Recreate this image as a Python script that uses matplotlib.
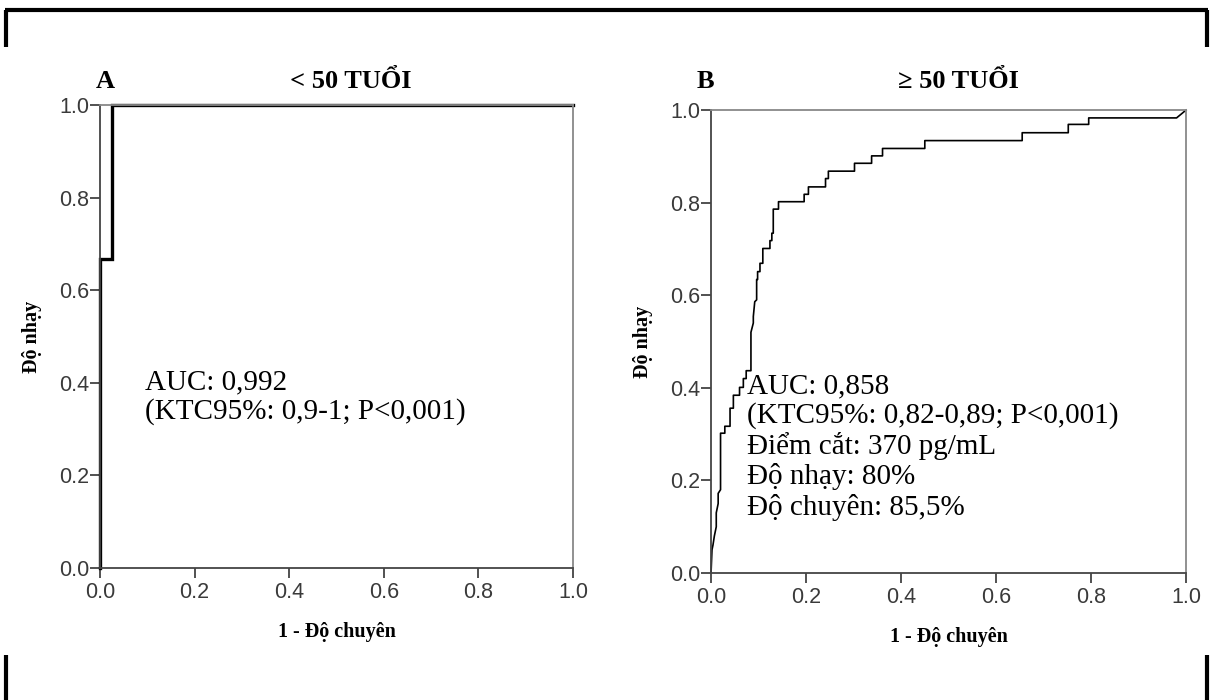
import matplotlib
matplotlib.use("Agg")
import matplotlib.pyplot as plt
from matplotlib.lines import Line2D

# ROC curve A (< 50 tuoi)
fpr_a = [0.0, 0.0, 0.025, 0.025, 1.0]
tpr_a = [0.0, 0.667, 0.667, 1.0, 1.0]

# ROC curve B (>= 50 tuoi)
fpr_b = [0.0, 0.002, 0.004, 0.007, 0.011, 0.011, 0.015, 0.015, 0.020, 0.020,
         0.029, 0.029, 0.040, 0.040, 0.047, 0.047, 0.060, 0.060, 0.068, 0.068,
         0.074, 0.074, 0.084, 0.084, 0.089, 0.089, 0.092, 0.096, 0.096, 0.098,
         0.098, 0.103, 0.103, 0.109, 0.109, 0.124, 0.124, 0.128, 0.128, 0.131,
         0.131, 0.142, 0.142, 0.196, 0.196, 0.205, 0.205, 0.241, 0.241, 0.247,
         0.247, 0.302, 0.302, 0.338, 0.338, 0.361, 0.361, 0.450, 0.450, 0.655,
         0.655, 0.752, 0.752, 0.795, 0.795, 0.980, 1.0]
tpr_b = [0.0, 0.050, 0.060, 0.080, 0.100, 0.130, 0.150, 0.172, 0.180, 0.302,
         0.302, 0.317, 0.317, 0.356, 0.356, 0.384, 0.384, 0.401, 0.401, 0.420,
         0.420, 0.437, 0.437, 0.520, 0.540, 0.554, 0.586, 0.590, 0.634, 0.634,
         0.651, 0.651, 0.669, 0.669, 0.701, 0.701, 0.718, 0.718, 0.734, 0.734,
         0.786, 0.786, 0.802, 0.802, 0.818, 0.818, 0.834, 0.834, 0.852, 0.852,
         0.868, 0.868, 0.885, 0.885, 0.901, 0.901, 0.917, 0.917, 0.934, 0.934,
         0.951, 0.951, 0.969, 0.969, 0.983, 0.983, 1.0]

ticks = [0.0, 0.2, 0.4, 0.6, 0.8, 1.0]
tick_labels = ["0.0", "0.2", "0.4", "0.6", "0.8", "1.0"]

text_a = "AUC: 0,992\n(KTC95%: 0,9-1; P<0,001)"
text_b = ("AUC: 0,858\n(KTC95%: 0,82-0,89; P<0,001)\nĐiểm cắt: 370 pg/mL\n"
          "Độ nhạy: 80%\nĐộ chuyên: 85,5%")

serif = "Liberation Serif"
sans = "Liberation Sans"

fig = plt.figure(figsize=(12.14, 7.0), dpi=100)

ax_a = fig.add_axes([0.0824, 0.1886, 0.3896, 0.6614])
ax_b = fig.add_axes([0.5857, 0.1814, 0.3913, 0.6614])


def style_axes(ax):
    ax.set_xlim(0, 1)
    ax.set_ylim(0, 1)
    ax.set_xticks(ticks)
    ax.set_yticks(ticks)
    ax.set_xticklabels(tick_labels, family=sans, fontsize=15.5, color="#3a3a3a")
    ax.set_yticklabels(tick_labels, family=sans, fontsize=15.5, color="#3a3a3a")
    ax.tick_params(direction="out", length=7, width=1.2, color="#333333", pad=3)
    ax.tick_params(axis="y", pad=1)
    for s in ["left", "bottom"]:
        ax.spines[s].set_color("#444444")
        ax.spines[s].set_linewidth(1.3)
    for s in ["top", "right"]:
        ax.spines[s].set_color("#888888")
        ax.spines[s].set_linewidth(1.3)
    ax.set_xlabel("1 - Độ chuyên", family=serif, fontweight="bold",
                  fontsize=14.5, labelpad=14)
    ax.set_ylabel("Độ nhạy", family=serif, fontweight="bold",
                  fontsize=14.5, labelpad=12)


style_axes(ax_a)
style_axes(ax_b)

ax_a.plot(fpr_a, tpr_a, color="black", lw=2.4, clip_on=False,
          solid_joinstyle="miter")
ax_b.plot(fpr_b, tpr_b, color="black", lw=1.2, clip_on=False)

ax_a.text(0.095, 0.43, text_a, family=serif, fontsize=21, va="top",
          ha="left", linespacing=1.15)
ax_b.text(0.076, 0.432, text_b, family=serif, fontsize=21, va="top",
          ha="left", linespacing=1.15)

ax_a.text(-0.01, 1.025, "A", transform=ax_a.transAxes, family=serif,
          fontweight="bold", fontsize=19, va="bottom", ha="left")
ax_a.text(0.53, 1.025, "< 50 TUỔI", transform=ax_a.transAxes, family=serif,
          fontweight="bold", fontsize=19, va="bottom", ha="center")
ax_b.text(-0.03, 1.036, "B", transform=ax_b.transAxes, family=serif,
          fontweight="bold", fontsize=19, va="bottom", ha="left")
ax_b.text(0.52, 1.036, "≥ 50 TUỔI", transform=ax_b.transAxes, family=serif,
          fontweight="bold", fontsize=19, va="bottom", ha="center")

# page border fragments
W, H = 1214.0, 700.0
border = [
    ([5, 1208], [10, 10]),
    ([6, 6], [10, 47]),
    ([1207, 1207], [10, 47]),
    ([6, 6], [655, 700]),
    ([1207, 1207], [655, 700]),
]
for xs, ys in border:
    fig.add_artist(Line2D([x / W for x in xs], [1 - y / H for y in ys],
                          color="black", lw=3.0, solid_capstyle="butt"))

fig.savefig("out.png", dpi=100)
